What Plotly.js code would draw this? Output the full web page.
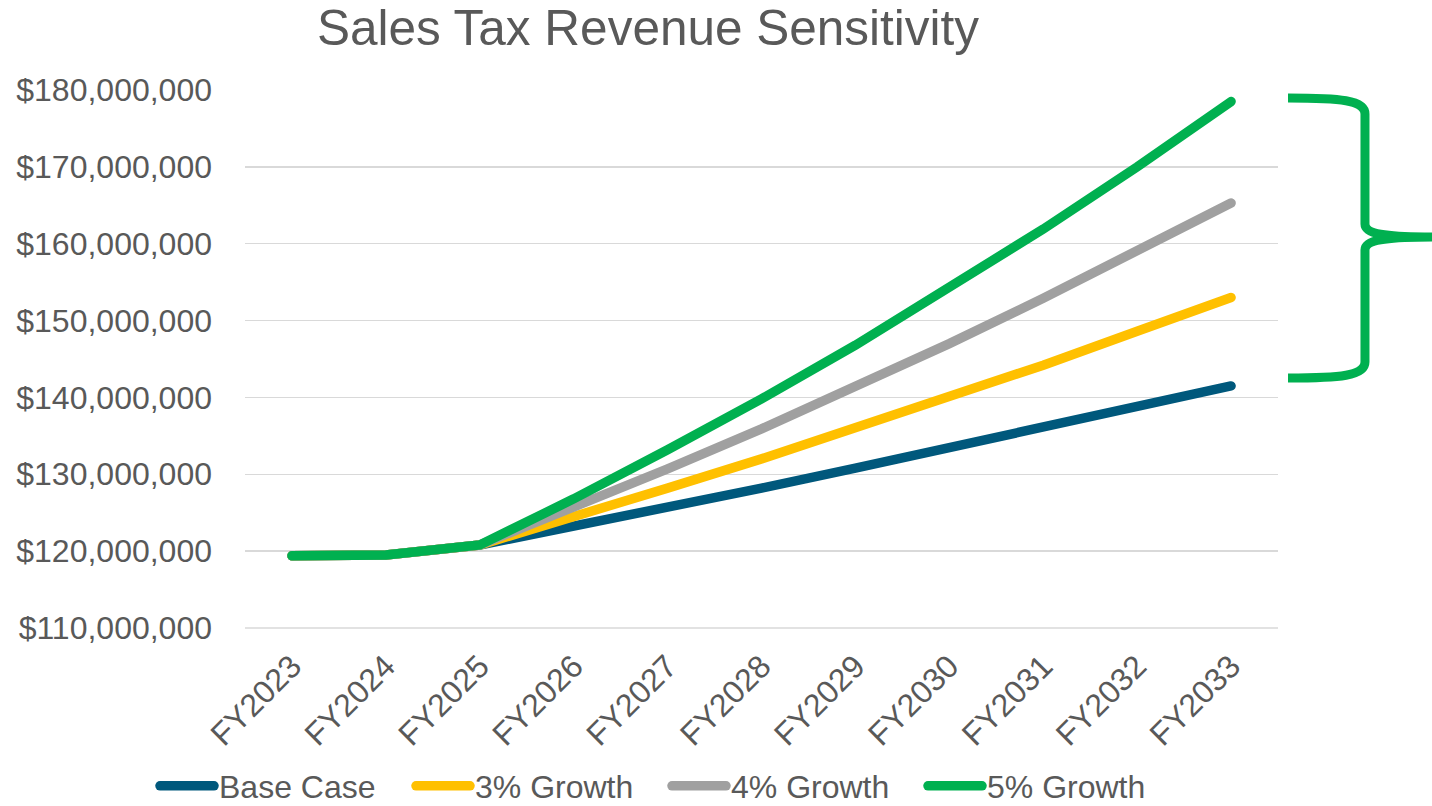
<!DOCTYPE html>
<html>
<head>
<meta charset="utf-8">
<script src="https://cdn.plot.ly/plotly-3.0.1.min.js"></script>
<style>
html,body{margin:0;padding:0;background:#fff;}
#chart{width:1432px;height:806px;}
.scatterlayer path.js-line{stroke-linecap:round;}
.legendlines path{stroke-linecap:round;}
</style>
</head>
<body>
<div id="chart"></div>
<script>
const years = ["FY2023","FY2024","FY2025","FY2026","FY2027","FY2028","FY2029","FY2030","FY2031","FY2032","FY2033"];
const baseCase  = [119.4,119.5,120.8,123.2,125.7,128.2,130.8,133.4,136.0,138.8,141.5].map(v=>v*1e6);
const growth3   = [119.4,119.5,120.8,124.4,128.2,132.0,136.0,140.0,144.2,148.6,153.0].map(v=>v*1e6);
const growth4   = [119.4,119.5,120.8,125.6,130.7,135.9,141.3,147.0,152.9,159.0,165.3].map(v=>v*1e6);
const growth5   = [119.4,119.5,120.8,126.8,133.2,139.8,146.8,154.2,161.9,170.0,178.5].map(v=>v*1e6);
const seriesNames = ["Base Case","3% Growth","4% Growth","5% Growth"];
const seriesColors = ["#00587C","#FFC000","#A0A0A0","#00B050"];
const seriesData = [baseCase, growth3, growth4, growth5];

const traces = seriesData.map((ys,i)=>({
  type:'scatter', mode:'lines', x:years, y:ys, name:seriesNames[i],
  line:{color:seriesColors[i], width:9.5}
}));

// plot area in pixels
const L=245, R=1278, T=90, B=628;
const px = x => (x-L)/(R-L);
const py = y => (B-y)/(B-T);
function P(x,y){return px(x).toFixed(4)+','+py(y).toFixed(4);}
const bracePath = 'M'+P(1288,98)+' C'+P(1340,98)+' '+P(1365,100)+' '+P(1365,114)+
  ' L'+P(1365,224)+' C'+P(1365,234)+' '+P(1385,237)+' '+P(1432,237)+
  ' C'+P(1385,237)+' '+P(1365,240)+' '+P(1365,250)+
  ' L'+P(1365,362)+' C'+P(1365,376)+' '+P(1340,378)+' '+P(1288,378);

const layout = {
  width:1432, height:806,
  margin:{l:L, r:1432-R, t:T, b:806-B, autoexpand:false},
  paper_bgcolor:'#fff', plot_bgcolor:'#fff',
  font:{family:'"Liberation Sans", Arial, sans-serif', color:'#595959'},
  title:{text:'Sales Tax Revenue Sensitivity', font:{size:49.5, color:'#595959'},
         x:648/1432, xref:'container', xanchor:'center', y:1-28/806, yref:'container', yanchor:'middle'},
  xaxis:{type:'category', range:[-0.5,10.5], showgrid:false, zeroline:false, showline:false,
         tickangle:-45, tickfont:{size:32, color:'#595959'}, ticks:'', ticklabelstandoff:12, automargin:false},
  yaxis:{range:[110e6,180e6], dtick:10e6, tick0:110e6, tickformat:'$,.0f', showgrid:true,
         gridcolor:'#D9D9D9', gridwidth:1.5, zeroline:false, showline:false,
         tickfont:{size:32, color:'#595959'}, ticks:'', ticklabelstandoff:32, automargin:false},
  showlegend:true,
  legend:{orientation:'h', x:px(155), xanchor:'left', y:py(786), yanchor:'middle',
          font:{size:32, color:'#595959'}, itemwidth:54, entrywidth:187, entrywidthmode:'pixels',
          tracegroupgap:0, traceorder:'normal', bgcolor:'rgba(0,0,0,0)'},
  shapes:[
    {type:'line', xref:'paper', yref:'paper', x0:0, x1:1, y0:0, y1:0, layer:'below',
     line:{color:'#D9D9D9', width:1.5}},
    {type:'path', xref:'paper', yref:'paper', path:bracePath,
     line:{color:'#00B050', width:9}}
  ]
};
Plotly.newPlot('chart', traces, layout, {displayModeBar:false, staticPlot:true});
</script>
</body>
</html>
